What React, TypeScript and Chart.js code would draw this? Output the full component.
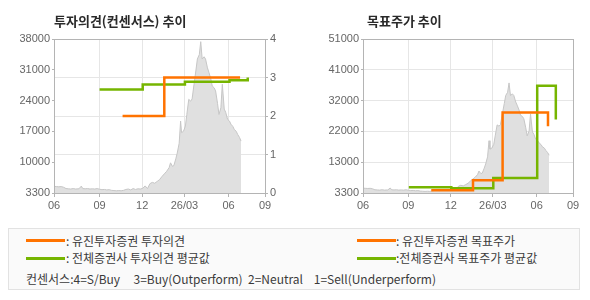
import React, { useEffect, useRef } from 'react';
import { Chart, registerables } from 'chart.js';

Chart.register(...registerables);

// x axis: days since 2025-06-01
const xMin = 0;
const xMax = 440;
const tickDays = [0, 95, 184, 272, 364, 440];
const tickLabels = ['06', '09', '12', '26/03', '06', '09'];

// stock price (gray area)
const priceDays = [
  0, 5, 10, 15, 20, 25, 30, 35, 40, 45, 52, 57, 60, 65, 70, 75, 80, 85, 90, 95,
  100, 105, 110, 115, 120, 125, 130, 135, 140, 145, 150, 155, 160, 165, 170, 175,
  180, 185, 190, 195, 200, 205, 210, 215, 220, 225, 230, 235, 240, 243, 247, 250,
  254, 257, 261, 264, 266, 270, 274, 277, 281, 285, 288, 292, 296, 299, 303, 306,
  309, 313, 316, 320, 323, 327, 330, 334, 337, 341, 344, 348, 351, 355, 358, 362,
  366, 369, 373, 376, 380, 383, 387, 390,
];
const priceValues = [
  4800, 4750, 4700, 4750, 4600, 4300, 4250, 4200, 4300, 4200, 4250, 4850, 4300, 4250, 4300, 4200, 4250, 4200, 4300, 4150,
  4050, 4100, 4000, 4050, 3900, 3850, 3800, 3850, 3800, 3900, 4100, 4200, 4000, 4300, 4100, 4250,
  4200, 4350, 4900, 4300, 5400, 5700, 5500, 5900, 6300, 7000, 7600, 8200, 9000, 10100, 9300, 9500,
  11000, 12300, 14500, 19500, 16900, 17200, 18400, 21000, 24400, 24000, 24500, 27800, 31000, 33500, 34500, 37400,
  33500, 34000, 33500, 31500, 30500, 29000, 27400, 27000, 26300, 23500, 21000, 22500, 27800, 22200, 21500, 19900,
  19500, 18800, 18300, 17600, 17200, 16500, 15800, 15000,
];

// opinion chart
const opinionPriceMin = 3300;
const opinionPriceMax = 38000;
const opinionPriceTickValues = [3300, 10240, 17180, 24120, 31060, 38000];
const opinionPriceTickLabels = ['3300', '10000', '17000', '24000', '31000', '38000'];
const opinionMin = 0;
const opinionMax = 4;

const eugeneOpinionDays = [143, 230, 388];
const eugeneOpinionValues = [2, 3, 3];
const avgOpinionDays = [95, 185, 273, 366, 404];
const avgOpinionValues = [2.69, 2.82, 2.89, 2.93, 3.0];

// target price chart
const targetMin = 3300;
const targetMax = 51000;
const targetTickValues = [3300, 12840, 22380, 31920, 41460, 51000];
const targetTickLabels = ['3300', '13000', '22000', '32000', '41000', '51000'];

const eugeneTargetDays = [143, 230.5, 292.5, 387.6];
const eugeneTargetValues = [4130, 7240, 28200, 24000];
const avgTargetDays = [96, 185, 273, 365, 404];
const avgTargetValues = [5100, 4800, 7950, 36500, 26100];

const ORANGE = '#ff7300';
const GREEN = '#76b500';
const GRID = '#e6e6e6';
const BORDER = '#b4b4b4';
const TICK = '#666666';

const pts = (xs: number[], ys: number[]) => xs.map((x, i) => ({ x, y: ys[i] }));

const frame = {
  id: 'frame',
  afterDraw(chart: any) {
    const { ctx, chartArea: a } = chart;
    ctx.save();
    ctx.strokeStyle = BORDER;
    ctx.lineWidth = 1;
    ctx.strokeRect(Math.round(a.left) + 0.5, Math.round(a.top) + 0.5, Math.round(a.right - a.left), Math.round(a.bottom - a.top));
    ctx.restore();
  },
};

const tickFont = { family: '"Liberation Sans", Arial, sans-serif', size: 11 };

function xScale() {
  return {
    type: 'linear',
    min: xMin,
    max: xMax,
    afterBuildTicks: (s: any) => {
      s.ticks = tickDays.map((v) => ({ value: v }));
    },
    afterFit: (s: any) => {
      s.height = 22;
    },
    ticks: {
      autoSkip: false,
      maxRotation: 0,
      color: TICK,
      font: tickFont,
      padding: 2,
      callback: (_v: any, i: number) => tickLabels[i],
    },
    grid: { color: GRID, tickColor: BORDER, tickLength: 4 },
    border: { color: BORDER },
  };
}

function lineDs(data: any[], color: string, yAxisID: string) {
  return {
    type: 'line',
    data,
    yAxisID,
    borderColor: color,
    borderWidth: 2.5,
    pointRadius: 0,
    fill: false,
    stepped: 'before',
    borderCapStyle: 'butt',
    borderJoinStyle: 'miter',
  };
}

function priceDs(yAxisID: string) {
  return {
    type: 'line',
    data: pts(priceDays, priceValues),
    yAxisID,
    borderColor: '#c6c6c6',
    borderWidth: 1,
    backgroundColor: '#e0e0e0',
    pointRadius: 0,
    fill: 'start',
    tension: 0,
  };
}

function OpinionChart() {
  const ref = useRef<HTMLCanvasElement>(null);
  useEffect(() => {
    const chart = new Chart(ref.current as HTMLCanvasElement, {
      type: 'line',
      data: {
        datasets: [
          lineDs(pts(eugeneOpinionDays, eugeneOpinionValues), ORANGE, 'yO'),
          lineDs(pts(avgOpinionDays, avgOpinionValues), GREEN, 'yO'),
          priceDs('yP'),
        ] as any,
      },
      options: {
        animation: false,
        responsive: false,
        layout: { padding: { top: 39, left: 0, right: 0, bottom: 0 } },
        plugins: { legend: { display: false }, tooltip: { enabled: false } },
        scales: {
          x: xScale() as any,
          yP: {
            type: 'linear',
            position: 'left',
            min: opinionPriceMin,
            max: opinionPriceMax,
            afterBuildTicks: (s: any) => {
              s.ticks = opinionPriceTickValues.map((v) => ({ value: v }));
            },
            afterFit: (s: any) => {
              s.width = 54;
            },
            ticks: {
              color: TICK,
              font: tickFont,
              padding: 2,
              callback: (_v: any, i: number) => opinionPriceTickLabels[i],
            },
            grid: { drawOnChartArea: false, tickColor: BORDER, tickLength: 2 },
            border: { color: BORDER },
          },
          yO: {
            type: 'linear',
            position: 'right',
            min: opinionMin,
            max: opinionMax,
            afterFit: (s: any) => {
              s.width = 30;
            },
            ticks: { stepSize: 1, color: TICK, font: tickFont, padding: 2 },
            grid: { color: GRID, tickColor: BORDER, tickLength: 3 },
            border: { color: BORDER },
          },
        } as any,
      },
      plugins: [frame],
    });
    return () => chart.destroy();
  }, []);
  return <canvas ref={ref} width={295} height={215} style={{ position: 'absolute', left: 0, top: 0 }} />;
}

function TargetChart() {
  const ref = useRef<HTMLCanvasElement>(null);
  useEffect(() => {
    const chart = new Chart(ref.current as HTMLCanvasElement, {
      type: 'line',
      data: {
        datasets: [
          lineDs(pts(eugeneTargetDays, eugeneTargetValues), ORANGE, 'y'),
          lineDs(pts(avgTargetDays, avgTargetValues), GREEN, 'y'),
          priceDs('y'),
        ] as any,
      },
      options: {
        animation: false,
        responsive: false,
        layout: { padding: { top: 39, left: 0, right: 17, bottom: 0 } },
        plugins: { legend: { display: false }, tooltip: { enabled: false } },
        scales: {
          x: xScale() as any,
          y: {
            type: 'linear',
            position: 'left',
            min: targetMin,
            max: targetMax,
            afterBuildTicks: (s: any) => {
              s.ticks = targetTickValues.map((v) => ({ value: v }));
            },
            afterFit: (s: any) => {
              s.width = 68;
            },
            ticks: {
              color: TICK,
              font: tickFont,
              padding: 2,
              callback: (_v: any, i: number) => targetTickLabels[i],
            },
            grid: { color: GRID, tickColor: BORDER, tickLength: 2 },
            border: { color: BORDER },
          },
        } as any,
      },
      plugins: [frame],
    });
    return () => chart.destroy();
  }, []);
  return <canvas ref={ref} width={295} height={215} style={{ position: 'absolute', left: 295, top: 0 }} />;
}

const KFONT = '"Noto Sans CJK KR", "Noto Sans", sans-serif';

function LegendLine({ left, top, color }: { left: number; top: number; color: string }) {
  return <div style={{ position: 'absolute', left, top, width: 39, height: 3, background: color }} />;
}

function LegendText({ left, top, children }: { left: number; top: number; children: React.ReactNode }) {
  return (
    <div
      style={{
        position: 'absolute',
        left,
        top,
        height: 16,
        lineHeight: '16px',
        fontSize: 12,
        fontFamily: KFONT,
        color: '#3a3a3a',
        whiteSpace: 'pre',
      }}
    >
      {children}
    </div>
  );
}

export default function App() {
  const titleStyle: React.CSSProperties = {
    position: 'absolute',
    top: 12,
    height: 18,
    lineHeight: '18px',
    fontSize: 13,
    fontWeight: 'bold',
    fontFamily: KFONT,
    color: '#2a2a2a',
    whiteSpace: 'pre',
  };
  return (
    <div style={{ position: 'absolute', left: 0, top: 0, width: 590, height: 300, background: '#ffffff', overflow: 'hidden' }}>
      <OpinionChart />
      <TargetChart />
      <div style={{ ...titleStyle, left: 54 }}>투자의견(컨센서스) 추이</div>
      <div style={{ ...titleStyle, left: 367 }}>목표주가 추이</div>
      <div
        style={{
          position: 'absolute',
          left: 8,
          top: 228,
          width: 570,
          height: 60,
          border: '1px solid #e2e2e2',
          background: '#fafafa',
        }}
      />
      <LegendLine left={26} top={239} color={ORANGE} />
      <LegendText left={66} top={233}>: 유진투자증권 투자의견</LegendText>
      <LegendLine left={26} top={257} color={GREEN} />
      <LegendText left={66} top={250}>: 전체증권사 투자의견 평균값</LegendText>
      <LegendLine left={357} top={239} color={ORANGE} />
      <LegendText left={396} top={233}>: 유진투자증권 목표주가</LegendText>
      <LegendLine left={357} top={257} color={GREEN} />
      <LegendText left={396} top={250}>:전체증권사 목표주가 평균값</LegendText>
      <LegendText left={26} top={271}>{'컨센서스:4=S/Buy     3=Buy(Outperform)  2=Neutral    1=Sell(Underperform)'}</LegendText>
    </div>
  );
}
